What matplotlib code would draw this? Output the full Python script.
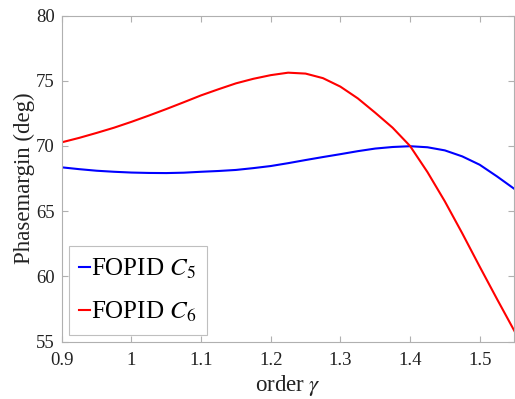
import matplotlib
matplotlib.use('Agg')
import matplotlib.pyplot as plt

plt.rcParams['font.family'] = 'Liberation Serif'
plt.rcParams['mathtext.fontset'] = 'stix'

# order gamma
gamma = [0.9, 0.925, 0.95, 0.975, 1.0, 1.025, 1.05, 1.075, 1.1, 1.125, 1.15, 1.175, 1.2,
         1.225, 1.25, 1.275, 1.3, 1.325, 1.35, 1.375, 1.4, 1.425, 1.45, 1.475, 1.5, 1.525, 1.55]
# phase margin (deg)
pm_c5 = [68.36, 68.22, 68.1, 68.02, 67.96, 67.93, 67.92, 67.95, 68.02, 68.08, 68.16, 68.3, 68.46,
         68.68, 68.92, 69.15, 69.37, 69.6, 69.8, 69.92, 69.98, 69.9, 69.66, 69.2, 68.56, 67.66, 66.7]
pm_c6 = [70.28, 70.62, 71.0, 71.4, 71.85, 72.33, 72.83, 73.35, 73.88, 74.35, 74.8, 75.15, 75.43,
         75.62, 75.55, 75.2, 74.55, 73.65, 72.55, 71.4, 70.0, 68.0, 65.75, 63.3, 60.75, 58.25, 55.8]

fig = plt.figure(figsize=(5.15, 3.99), dpi=100)
ax = fig.add_axes([0.12, 0.144, 0.879, 0.817])

ax.plot(gamma, pm_c5, color='#0000ff', lw=1.5, label='FOPID $C_5$')
ax.plot(gamma, pm_c6, color='#ff0000', lw=1.5, label='FOPID $C_6$')

ax.set_xlim(0.9, 1.55)
ax.set_ylim(55, 80)
ax.set_xticks([0.9, 1.0, 1.1, 1.2, 1.3, 1.4, 1.5])
ax.set_xticklabels(['0.9', '1', '1.1', '1.2', '1.3', '1.4', '1.5'])
ax.set_yticks([55, 60, 65, 70, 75, 80])

for s in ax.spines.values():
    s.set_color('#b0b0b0')
    s.set_linewidth(0.8)
ax.tick_params(direction='in', top=True, right=True, color='#b0b0b0', length=4,
               labelsize=13.5, labelcolor='#222222')
ax.tick_params(axis='x', pad=7.5)
ax.tick_params(axis='y', pad=5)

ax.set_xlabel('order $\\gamma$', fontsize=16.5, color='#222222', labelpad=3)
ax.set_ylabel('Phasemargin (deg)', fontsize=16.5, color='#222222', labelpad=1)

leg = ax.legend(loc='lower left', fontsize=18, handlelength=0.45, handletextpad=0.02,
                fancybox=False, borderaxespad=0.27, borderpad=0.42, labelspacing=0.75)
leg.get_frame().set_edgecolor('#b0b0b0')
leg.get_frame().set_linewidth(0.8)

fig.savefig('out.png', dpi=100)
